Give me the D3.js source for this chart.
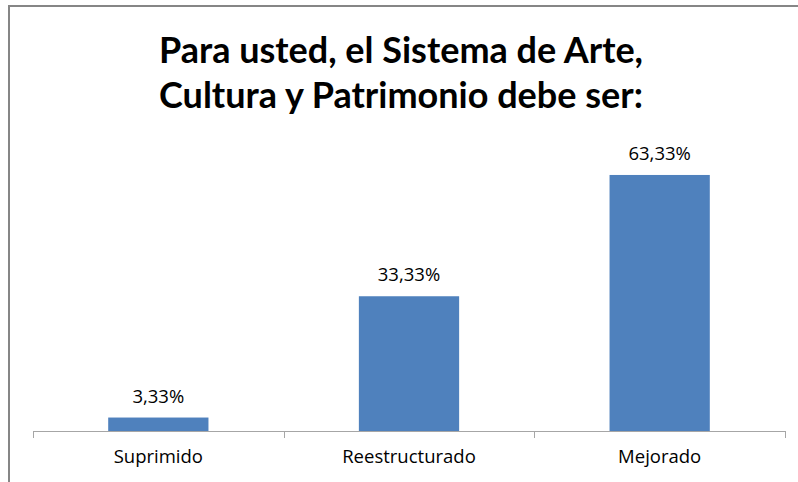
<!DOCTYPE html>
<html lang="es">
<head>
<meta charset="UTF-8">
<script src="https://d3js.org/d3.v7.min.js"></script>
<style>
  body { margin: 0; background: #fff; }
  svg { display: block; }
  text { fill: #000; }
  .lbl { font-family: "Open Sans", Lato, sans-serif; font-size: 18.5px; }
  .title { font-family: Lato, "Open Sans", sans-serif; font-size: 36px; font-weight: bold; }
</style>
</head>
<body>
<svg id="chart"></svg>
<script>
const categories = ['Suprimido', 'Reestructurado', 'Mejorado'];
const values = [3.33, 33.33, 63.33];
const titleLines = ['Para usted, el Sistema de Arte,', 'Cultura y Patrimonio debe ser:'];

const w = 798, h = 482;
const svg = d3.select('#chart').attr('width', w).attr('height', h);

// chart frame (only top and left edges visible in crop)
svg.append('path')
  .attr('d', 'M9,482 V6 H798')
  .attr('fill', 'none')
  .attr('stroke', '#868686')
  .attr('stroke-width', 2);

const x = d3.scaleBand().domain(categories).range([33, 785]);
const y = d3.scaleLinear().domain([0, 70]).range([431, 148]);
const barW = x.bandwidth() * 0.4;

svg.selectAll('rect.bar')
  .data(values)
  .enter()
  .append('rect')
  .attr('class', 'bar')
  .attr('x', (d, i) => x(categories[i]) + (x.bandwidth() - barW) / 2)
  .attr('y', d => y(d))
  .attr('width', barW)
  .attr('height', d => y(0) - y(d))
  .attr('fill', '#4f81bd');

// x axis, ticks sit on the category boundaries
const xAxis = d3.axisBottom(x).tickSize(0).tickPadding(19);
const gx = svg.append('g')
  .attr('transform', 'translate(0,' + y(0) + ')')
  .call(xAxis);
gx.select('.domain').remove();
gx.selectAll('text')
  .attr('class', 'lbl')
  .attr('font-family', null)
  .attr('fill', '#000');

const bounds = categories.map(c => x(c)).concat([x.range()[1]]);
svg.append('line')
  .attr('x1', bounds[0]).attr('x2', bounds[bounds.length - 1])
  .attr('y1', y(0) + 0.5).attr('y2', y(0) + 0.5)
  .attr('stroke', '#a6a6a6');
svg.selectAll('line.tick-mark')
  .data(bounds)
  .enter()
  .append('line')
  .attr('class', 'tick-mark')
  .attr('x1', d => Math.round(d) + 0.5).attr('x2', d => Math.round(d) + 0.5)
  .attr('y1', y(0)).attr('y2', y(0) + 7)
  .attr('stroke', '#a6a6a6');

// value labels
svg.selectAll('text.val')
  .data(values)
  .enter()
  .append('text')
  .attr('class', 'val lbl')
  .attr('x', (d, i) => x(categories[i]) + x.bandwidth() / 2)
  .attr('y', d => y(d) - 15)
  .attr('text-anchor', 'middle')
  .text(d => d.toFixed(2).replace('.', ',') + '%');

// title
svg.selectAll('text.title')
  .data(titleLines)
  .enter()
  .append('text')
  .attr('class', 'title')
  .attr('x', 401)
  .attr('y', (d, i) => 63 + i * 45)
  .attr('text-anchor', 'middle')
  .text(d => d);
</script>
</body>
</html>
